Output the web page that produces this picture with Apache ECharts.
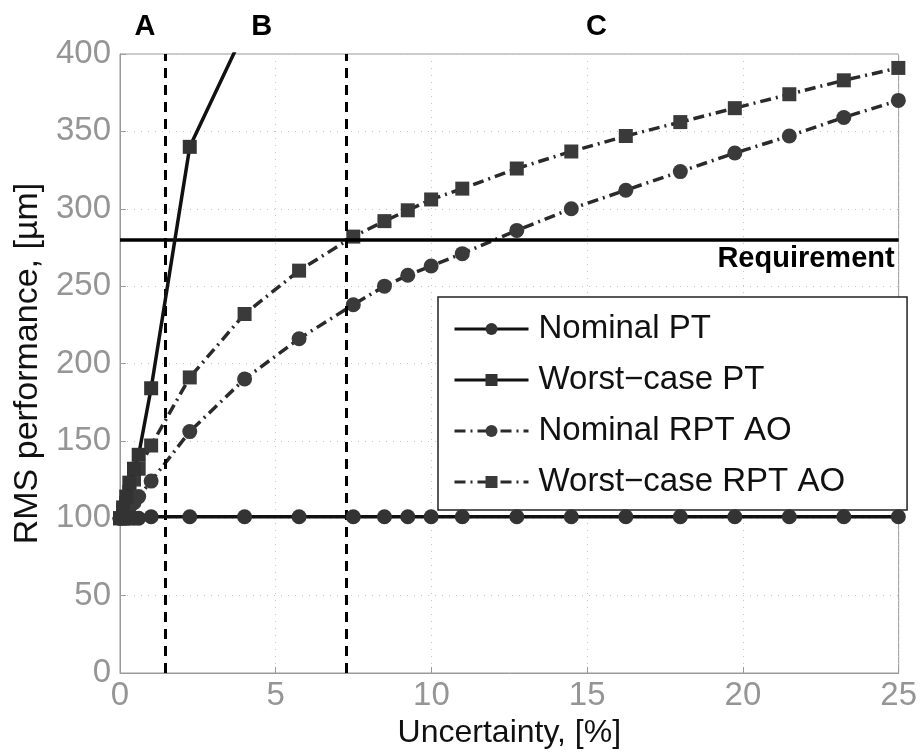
<!DOCTYPE html>
<html>
<head>
<meta charset="utf-8">
<script src="https://cdn.jsdelivr.net/npm/echarts@6/dist/echarts.min.js"></script>
<style>
  html, body { margin: 0; padding: 0; background: #fff; }
  #chart { width: 920px; height: 754px; }
</style>
</head>
<body>
<div id="chart"></div>
<script>
// Uncertainty sweep (percent) shared by every series
const uncertainty = [0, 0.1, 0.2, 0.3, 0.45, 0.6, 1.0, 2.24, 4.0, 5.75, 7.49, 8.49, 9.24, 9.99,
  10.99, 12.74, 14.49, 16.24, 17.99, 19.74, 21.49, 23.24, 24.99];

// RMS performance in micrometres
const nominalPT = [100, 100, 100, 100, 100, 100, 101, 101, 101, 101, 101, 101, 101, 101,
  101, 101, 101, 101, 101, 101, 101, 101, 101];
const worstCasePT = [100, 107, 114, 123, 132, 141, 184, 340, 415];
const nominalRPTAO = [100, 102, 104, 107, 110, 114, 124, 156, 190, 216, 238, 250, 257, 263,
  271, 286, 300, 312, 324, 336, 347, 359, 370];
const worstCaseRPTAO = [100, 105, 110, 117, 125, 132, 147, 191, 232, 260, 282, 292, 299, 306,
  313, 326, 337, 347, 356, 365, 374, 383, 391];

const seriesNames = ['Nominal PT', 'Worst\u2212case PT', 'Nominal RPT AO', 'Worst\u2212case RPT AO'];

// Region boundaries and the performance requirement
const regionBounds = [1.44, 7.25];
const regionLabels = ['A', 'B', 'C'];
const regionLabelX = [0.8, 4.55, 15.3];
const requirement = 280;

const xTicks = [0, 5, 10, 15, 20, 25];
const yTicks = [0, 50, 100, 150, 200, 250, 300, 350, 400];

const pairs = (vals) => vals.map((v, i) => [uncertainty[i], v]);

const FONT = '"Liberation Sans", Arial, Helvetica, sans-serif';
const dashDot = [11, 5, 2, 5];

const chart = echarts.init(document.getElementById('chart'), null, { renderer: 'canvas' });

const option = {
  animation: false,
  backgroundColor: '#fff',
  grid: {
    left: 120, right: 18, top: 54, bottom: 81,
    show: true, borderColor: '#9a9a9a', borderWidth: 1, backgroundColor: 'transparent'
  },
  xAxis: {
    type: 'value', min: xTicks[0], max: xTicks[xTicks.length - 1], interval: 5,
    name: 'Uncertainty, [%]', nameLocation: 'middle', nameGap: 30,
    nameTextStyle: { fontFamily: FONT, fontSize: 32, color: '#111' },
    axisLine: { show: true, lineStyle: { color: '#9a9a9a', width: 1 } },
    axisTick: { show: true, inside: true, length: 6, lineStyle: { color: '#9a9a9a' } },
    axisLabel: { fontFamily: FONT, fontSize: 33, color: '#959595', margin: 6 },
    splitLine: { show: true, lineStyle: { color: '#c4c4c4', type: [1, 6], width: 1 } }
  },
  yAxis: {
    type: 'value', min: yTicks[0], max: yTicks[yTicks.length - 1], interval: 50,
    name: 'RMS performance, [\u00b5m]', nameLocation: 'middle', nameGap: 74,
    nameTextStyle: { fontFamily: FONT, fontSize: 34, color: '#111' },
    axisLine: { show: true, lineStyle: { color: '#9a9a9a', width: 1 } },
    axisTick: { show: true, inside: true, length: 6, lineStyle: { color: '#9a9a9a' } },
    axisLabel: { fontFamily: FONT, fontSize: 33, color: '#959595', margin: 9 },
    splitLine: { show: true, lineStyle: { color: '#c4c4c4', type: [1, 6], width: 1 } }
  },
  legend: {
    orient: 'vertical',
    left: 438, top: 297,
    padding: [15, 62, 11, 15],
    itemWidth: 74, itemHeight: 15, itemGap: 17,
    backgroundColor: '#fff',
    borderColor: '#222', borderWidth: 1.5,
    lineStyle: { width: 3 },
    textStyle: { fontFamily: FONT, fontSize: 33, color: '#111', lineHeight: 34, padding: [0, 0, 0, 5] },
    data: seriesNames
  },
  series: [
    {
      name: seriesNames[0], type: 'line', data: pairs(nominalPT), z: 5,
      symbol: 'circle', symbolSize: 15,
      itemStyle: { color: '#333' },
      lineStyle: { color: '#111', width: 3.5, type: 'solid' }
    },
    {
      name: seriesNames[1], type: 'line', data: pairs(worstCasePT), z: 6,
      symbol: 'rect', symbolSize: 14,
      itemStyle: { color: '#333' },
      lineStyle: { color: '#111', width: 3.5, type: 'solid' }
    },
    {
      name: seriesNames[2], type: 'line', data: pairs(nominalRPTAO), z: 4,
      symbol: 'circle', symbolSize: 15,
      itemStyle: { color: '#3a3a3a' },
      lineStyle: { color: '#2a2a2a', width: 3.5, type: dashDot }
    },
    {
      name: seriesNames[3], type: 'line', data: pairs(worstCaseRPTAO), z: 4,
      symbol: 'rect', symbolSize: 14,
      itemStyle: { color: '#3a3a3a' },
      lineStyle: { color: '#2a2a2a', width: 3.5, type: dashDot }
    },
    {
      // region boundaries and requirement level
      name: 'annotations', type: 'line', data: [], z: 3,
      markLine: {
        silent: true, symbol: 'none', animation: false,
        data: [
          ...regionBounds.map(x => ({
            xAxis: x,
            lineStyle: { color: '#000', width: 3, type: [10, 7] },
            label: { show: false }
          })),
          {
            yAxis: requirement,
            lineStyle: { color: '#000', width: 3.5, type: 'solid' },
            label: {
              show: true, position: 'insideEndBottom', formatter: 'Requirement',
              fontFamily: FONT, fontSize: 29, fontWeight: 'bold', color: '#000',
              distance: [4, 5]
            }
          }
        ]
      }
    }
  ]
};

chart.setOption(option);

// Region letters above the plot, placed from their data x positions
const labelGraphics = regionLabels.map((t, i) => {
  const px = chart.convertToPixel({ xAxisIndex: 0 }, regionLabelX[i]);
  return {
    type: 'text', x: px, y: 27,
    style: {
      text: t, fontFamily: FONT, fontSize: 29, fontWeight: 'bold', fill: '#000',
      textAlign: 'center', textVerticalAlign: 'middle'
    }
  };
});
chart.setOption({ graphic: labelGraphics });
</script>
</body>
</html>
